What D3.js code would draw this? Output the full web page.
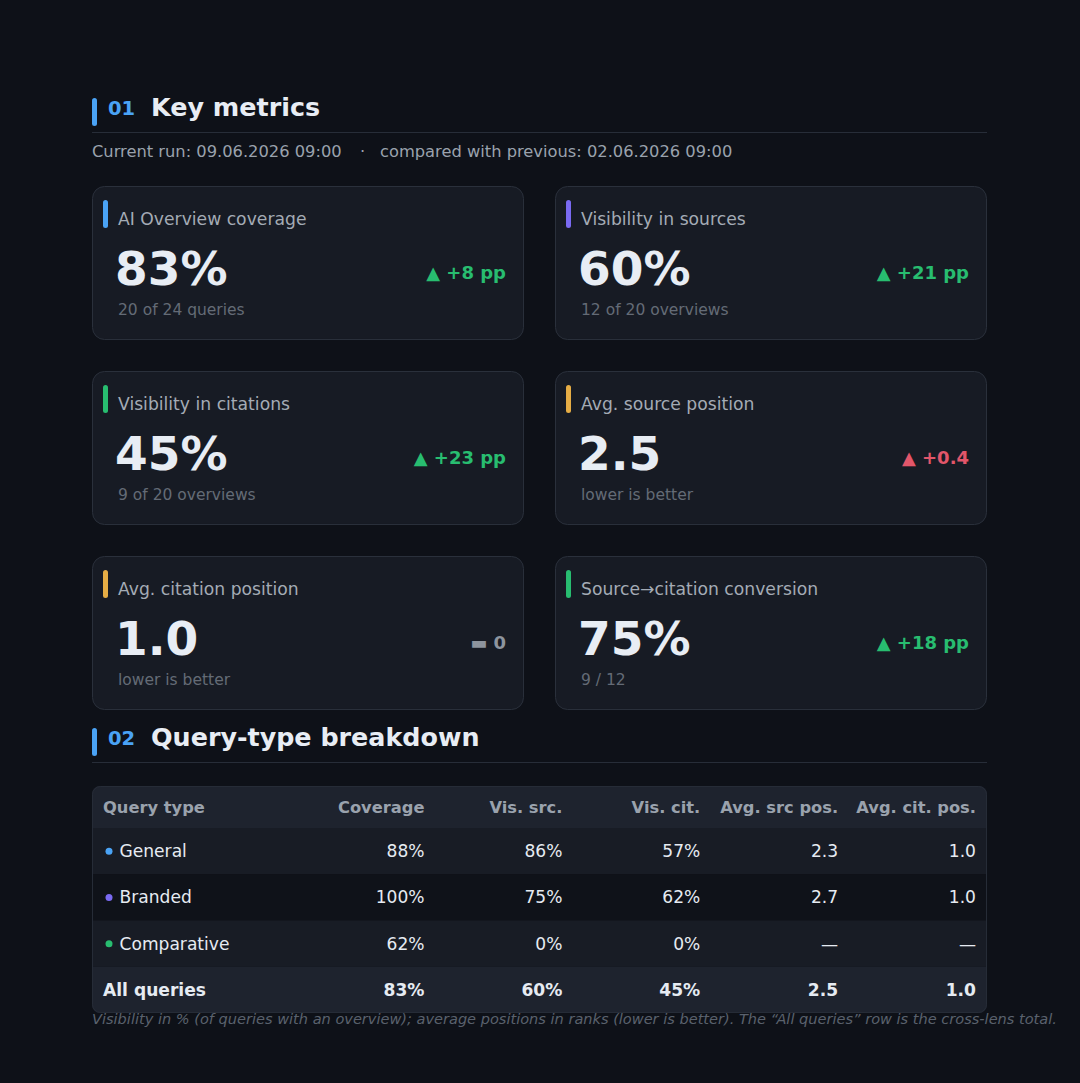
<!DOCTYPE html>
<html>
<head>
<meta charset="utf-8">
<script src="https://cdn.jsdelivr.net/npm/d3@7"></script>
<style>
  html, body { margin: 0; padding: 0; background: #0e1118; }
  svg { display: block; font-family: "DejaVu Sans", sans-serif; }
</style>
</head>
<body>
<div id="wrapper"></div>
<script>
// key metric cards
const metricLabels = ["AI Overview coverage", "Visibility in sources", "Visibility in citations",
    "Avg. source position", "Avg. citation position", "Source\u2192citation conversion"];
const metricValues = ["83%", "60%", "45%", "2.5", "1.0", "75%"];
const metricSubs = ["20 of 24 queries", "12 of 20 overviews", "9 of 20 overviews",
    "lower is better", "lower is better", "9 / 12"];
const metricDeltas = ["+8 pp", "+21 pp", "+23 pp", "+0.4", "0", "+18 pp"];
const metricTrend = ["up", "up", "up", "up", "flat", "up"];
const metricTone = ["good", "good", "good", "bad", "neutral", "good"];
const metricAccent = ["blue", "purple", "green", "amber", "amber", "green"];

// query-type breakdown table
const tableColumns = ["Query type", "Coverage", "Vis. src.", "Vis. cit.", "Avg. src pos.", "Avg. cit. pos."];
const queryTypes = ["General", "Branded", "Comparative", "All queries"];
const queryAccent = ["blue", "purple", "green", null];
const coverage = ["88%", "100%", "62%", "83%"];
const visSrc = ["86%", "75%", "0%", "60%"];
const visCit = ["57%", "62%", "0%", "45%"];
const avgSrcPos = ["2.3", "2.7", "\u2014", "2.5"];
const avgCitPos = ["1.0", "1.0", "\u2014", "1.0"];

const palette = {
    blue: "#4aa3f5", purple: "#7a6af2", green: "#28bd70", amber: "#e6ad45",
    good: "#28bd70", bad: "#e2566a", neutral: "#8d949e"
};

function buildPage() {
    var dimension = {
        width: 1080,
        height: 1083,
        left: 92,
        right: 987
    };

    const svg = d3.select("#wrapper").append("svg")
        .attr("width", dimension.width)
        .attr("height", dimension.height);

    svg.append("rect")
        .attr("width", dimension.width)
        .attr("height", dimension.height)
        .attr("fill", "#0e1118");

    // section heading: accent bar, number, title, rule
    function sectionHeading(top, num, title) {
        const g = svg.append("g").attr("transform", `translate(0, ${top})`);
        g.append("rect")
            .attr("x", dimension.left).attr("y", 0)
            .attr("width", 5).attr("height", 28).attr("rx", 2.5)
            .attr("fill", palette.blue);
        g.append("text")
            .attr("x", 108).attr("y", 17)
            .attr("fill", palette.blue)
            .attr("font-size", 19.5).attr("font-weight", "bold")
            .text(num);
        g.append("text")
            .attr("x", 151).attr("y", 18)
            .attr("fill", "#e8edf4")
            .attr("font-size", 25.4).attr("font-weight", "bold")
            .text(title);
        g.append("line")
            .attr("x1", dimension.left).attr("x2", dimension.right)
            .attr("y1", 34.5).attr("y2", 34.5)
            .attr("stroke", "#272d38");
    }

    sectionHeading(98, "01", "Key metrics");

    // run info line
    const info = svg.append("g").attr("fill", "#9aa2ad").attr("font-size", 16.3);
    info.append("text").attr("x", dimension.left).attr("y", 157).text("Current run: 09.06.2026 09:00");
    info.append("text").attr("x", 360).attr("y", 157).text("\u00b7");
    info.append("text").attr("x", 380).attr("y", 157).text("compared with previous: 02.06.2026 09:00");

    // cards grid
    const cards = metricLabels.map((label, i) => ({
        label: label,
        value: metricValues[i],
        sub: metricSubs[i],
        delta: metricDeltas[i],
        trend: metricTrend[i],
        tone: metricTone[i],
        accent: metricAccent[i],
        col: i % 2,
        row: Math.floor(i / 2)
    }));

    const xCard = d3.scaleBand()
        .domain([0, 1])
        .range([dimension.left, dimension.right])
        .paddingInner(0.067);

    const yCard = d3.scaleBand()
        .domain([0, 1, 2])
        .range([186, 710])
        .paddingInner(0.1676);

    const card = svg.selectAll("g.card")
        .data(cards)
        .join("g")
        .attr("class", "card")
        .attr("transform", d => `translate(${xCard(d.col)}, ${yCard(d.row)})`);

    card.append("rect")
        .attr("x", 0.5).attr("y", 0.5)
        .attr("width", xCard.bandwidth() - 1)
        .attr("height", yCard.bandwidth() - 1)
        .attr("rx", 12)
        .attr("fill", "#171b24")
        .attr("stroke", "#2a303b");

    card.append("rect")
        .attr("x", 11).attr("y", 14)
        .attr("width", 5).attr("height", 28).attr("rx", 2.5)
        .attr("fill", d => palette[d.accent]);

    card.append("text")
        .attr("x", 26).attr("y", 39)
        .attr("fill", "#a4abb5")
        .attr("font-size", 17.2)
        .text(d => d.label);

    card.append("text")
        .attr("x", 23).attr("y", 99)
        .attr("fill", "#e8edf4")
        .attr("font-size", 47).attr("font-weight", "bold")
        .text(d => d.value);

    card.append("text")
        .attr("x", 26).attr("y", 129)
        .attr("fill", "#646b76")
        .attr("font-size", 15.5)
        .text(d => d.sub);

    card.append("text")
        .attr("x", xCard.bandwidth() - 18).attr("y", 92.5)
        .attr("text-anchor", "end")
        .attr("fill", d => palette[d.tone])
        .attr("font-size", 18).attr("font-weight", "bold")
        .text(d => (d.trend === "up" ? "\u25b2 " : d.trend === "down" ? "\u25bc " : "\u25ac ") + d.delta);

    // section 02
    sectionHeading(728, "02", "Query-type breakdown");

    const tableTop = 786, headerBottom = 828, tableBottom = 1013;

    const rows = queryTypes.map((q, i) => ({
        name: q,
        accent: queryAccent[i],
        total: i === queryTypes.length - 1,
        cells: [coverage[i], visSrc[i], visCit[i], avgSrcPos[i], avgCitPos[i]],
        idx: i
    }));

    const yRow = d3.scaleBand()
        .domain(d3.range(rows.length))
        .range([headerBottom, tableBottom]);

    const xCol = d3.scalePoint()
        .domain(tableColumns.slice(1))
        .range([424.5, 976]);

    svg.append("clipPath").attr("id", "table-clip")
        .append("rect")
        .attr("x", dimension.left).attr("y", tableTop)
        .attr("width", dimension.right - dimension.left)
        .attr("height", tableBottom - tableTop)
        .attr("rx", 8);

    const table = svg.append("g").attr("clip-path", "url(#table-clip)");

    table.append("rect")
        .attr("x", dimension.left).attr("y", tableTop)
        .attr("width", dimension.right - dimension.left)
        .attr("height", headerBottom - tableTop)
        .attr("fill", "#1e232e");

    const rowFill = d => d.total ? "#1e232e" : (d.idx % 2 === 0 ? "#181c25" : "#0f1219");

    const row = table.selectAll("g.row")
        .data(rows)
        .join("g")
        .attr("class", "row")
        .attr("transform", d => `translate(0, ${yRow(d.idx)})`);

    row.append("rect")
        .attr("x", dimension.left)
        .attr("width", dimension.right - dimension.left)
        .attr("height", yRow.bandwidth())
        .attr("fill", rowFill);

    svg.append("rect")
        .attr("x", dimension.left + 0.5).attr("y", tableTop + 0.5)
        .attr("width", dimension.right - dimension.left - 1)
        .attr("height", tableBottom - tableTop - 1)
        .attr("rx", 8)
        .attr("fill", "none")
        .attr("stroke", "#262c37");

    // header labels
    const header = svg.append("g")
        .attr("fill", "#9aa2ad")
        .attr("font-size", 16.3).attr("font-weight", "bold");

    header.append("text")
        .attr("x", 103).attr("y", 813)
        .text(tableColumns[0]);

    header.selectAll("text.col")
        .data(tableColumns.slice(1))
        .join("text")
        .attr("class", "col")
        .attr("x", d => xCol(d))
        .attr("y", 813)
        .attr("text-anchor", "end")
        .text(d => d);

    // body cells
    const mid = yRow.bandwidth() / 2;

    row.filter(d => d.accent)
        .append("circle")
        .attr("cx", 109).attr("cy", mid)
        .attr("r", 3.5)
        .attr("fill", d => palette[d.accent]);

    row.append("text")
        .attr("x", d => d.accent ? 119.5 : 103)
        .attr("y", mid + 6)
        .attr("fill", "#e6ebf2")
        .attr("font-size", 17.1)
        .attr("font-weight", d => d.total ? "bold" : "normal")
        .text(d => d.name);

    row.selectAll("text.cell")
        .data(d => d.cells.map((v, j) => ({ v: v, col: tableColumns[j + 1], total: d.total })))
        .join("text")
        .attr("class", "cell")
        .attr("x", d => xCol(d.col))
        .attr("y", mid + 6)
        .attr("text-anchor", "end")
        .attr("fill", "#e6ebf2")
        .attr("font-size", 17.1)
        .attr("font-weight", d => d.total ? "bold" : "normal")
        .text(d => d.v);

    svg.append("text")
        .attr("x", dimension.left).attr("y", 1024)
        .attr("fill", "#5a616d")
        .attr("font-size", 14.55)
        .attr("font-style", "italic")
        .text("Visibility in % (of queries with an overview); average positions in ranks (lower is better). The \u201cAll queries\u201d row is the cross-lens total.");
}

buildPage();
</script>
</body>
</html>
